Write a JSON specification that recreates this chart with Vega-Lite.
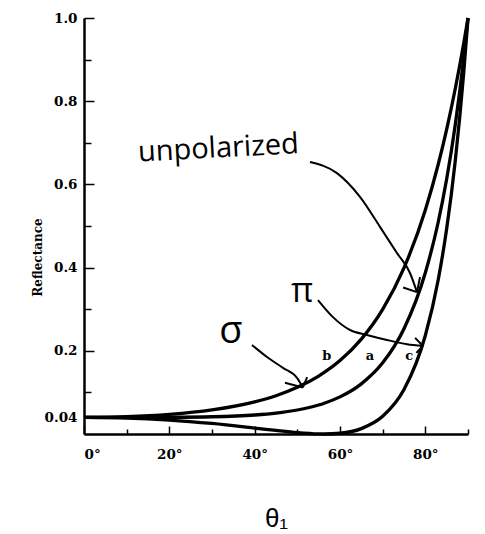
{
  "$schema": "https://vega.github.io/schema/vega-lite/v6.json",
  "width": 384,
  "height": 416,
  "autosize": {"type": "none"},
  "padding": {"left": 84, "top": 18, "right": 17, "bottom": 100},
  "background": "white",
  "config": {
    "view": {"stroke": null},
    "axis": {
      "grid": false,
      "domainColor": "black",
      "domainWidth": 2.5,
      "tickColor": "black",
      "tickWidth": 1.5,
      "labelColor": "black",
      "labelFont": "DejaVu Serif",
      "labelFontWeight": "bold",
      "labelFontSize": 13.5,
      "titleColor": "black"
    }
  },
  "datasets": {
    "curves": [
      {"curve": "sigma", "angle": 0, "R": 0.04},
      {"curve": "sigma", "angle": 10, "R": 0.0417},
      {"curve": "sigma", "angle": 20, "R": 0.0471},
      {"curve": "sigma", "angle": 30, "R": 0.0578},
      {"curve": "sigma", "angle": 40, "R": 0.0772},
      {"curve": "sigma", "angle": 45, "R": 0.092},
      {"curve": "sigma", "angle": 50, "R": 0.1121},
      {"curve": "sigma", "angle": 55, "R": 0.1393},
      {"curve": "sigma", "angle": 56.3, "R": 0.1479},
      {"curve": "sigma", "angle": 60, "R": 0.1766},
      {"curve": "sigma", "angle": 65, "R": 0.2281},
      {"curve": "sigma", "angle": 70, "R": 0.2996},
      {"curve": "sigma", "angle": 75, "R": 0.3994},
      {"curve": "sigma", "angle": 80, "R": 0.5386},
      {"curve": "sigma", "angle": 83, "R": 0.6472},
      {"curve": "sigma", "angle": 85, "R": 0.7323},
      {"curve": "sigma", "angle": 87, "R": 0.8293},
      {"curve": "sigma", "angle": 89, "R": 0.9395},
      {"curve": "sigma", "angle": 90, "R": 1.0},
      {"curve": "unpolarized", "angle": 0, "R": 0.04},
      {"curve": "unpolarized", "angle": 10, "R": 0.04},
      {"curve": "unpolarized", "angle": 20, "R": 0.0403},
      {"curve": "unpolarized", "angle": 30, "R": 0.0415},
      {"curve": "unpolarized", "angle": 40, "R": 0.0457},
      {"curve": "unpolarized", "angle": 45, "R": 0.0502},
      {"curve": "unpolarized", "angle": 50, "R": 0.0577},
      {"curve": "unpolarized", "angle": 55, "R": 0.0697},
      {"curve": "unpolarized", "angle": 56.3, "R": 0.074},
      {"curve": "unpolarized", "angle": 60, "R": 0.0892},
      {"curve": "unpolarized", "angle": 65, "R": 0.1205},
      {"curve": "unpolarized", "angle": 70, "R": 0.171},
      {"curve": "unpolarized", "angle": 75, "R": 0.2531},
      {"curve": "unpolarized", "angle": 80, "R": 0.3877},
      {"curve": "unpolarized", "angle": 83, "R": 0.5084},
      {"curve": "unpolarized", "angle": 85, "R": 0.6128},
      {"curve": "unpolarized", "angle": 87, "R": 0.7424},
      {"curve": "unpolarized", "angle": 89, "R": 0.9042},
      {"curve": "unpolarized", "angle": 90, "R": 1.0},
      {"curve": "pi", "angle": 0, "R": 0.04},
      {"curve": "pi", "angle": 10, "R": 0.0384},
      {"curve": "pi", "angle": 20, "R": 0.0335},
      {"curve": "pi", "angle": 30, "R": 0.0253},
      {"curve": "pi", "angle": 40, "R": 0.0143},
      {"curve": "pi", "angle": 45, "R": 0.0085},
      {"curve": "pi", "angle": 50, "R": 0.0033},
      {"curve": "pi", "angle": 55, "R": 0.0002},
      {"curve": "pi", "angle": 56.3, "R": 0.0},
      {"curve": "pi", "angle": 60, "R": 0.0018},
      {"curve": "pi", "angle": 65, "R": 0.013},
      {"curve": "pi", "angle": 70, "R": 0.0425},
      {"curve": "pi", "angle": 75, "R": 0.1068},
      {"curve": "pi", "angle": 80, "R": 0.2368},
      {"curve": "pi", "angle": 83, "R": 0.3696},
      {"curve": "pi", "angle": 85, "R": 0.4933},
      {"curve": "pi", "angle": 87, "R": 0.6555},
      {"curve": "pi", "angle": 89, "R": 0.8689},
      {"curve": "pi", "angle": 90, "R": 1.0}
    ],
    "arrows": [
      {"id": "u_shaft", "ord": 1, "angle": 52.96, "R": 0.654},
      {"id": "u_shaft", "ord": 2, "angle": 59.29, "R": 0.627},
      {"id": "u_shaft", "ord": 3, "angle": 64.68, "R": 0.57},
      {"id": "u_shaft", "ord": 4, "angle": 69.37, "R": 0.498},
      {"id": "u_shaft", "ord": 5, "angle": 73.35, "R": 0.435},
      {"id": "u_shaft", "ord": 6, "angle": 76.4, "R": 0.387},
      {"id": "u_shaft", "ord": 7, "angle": 78.04, "R": 0.341},
      {"id": "u_w1", "ord": 1, "angle": 74.8, "R": 0.352},
      {"id": "u_w1", "ord": 2, "angle": 78.04, "R": 0.341},
      {"id": "u_w2", "ord": 1, "angle": 78.75, "R": 0.377},
      {"id": "u_w2", "ord": 2, "angle": 78.04, "R": 0.341},
      {"id": "p_shaft", "ord": 1, "angle": 54.84, "R": 0.322},
      {"id": "p_shaft", "ord": 2, "angle": 58.35, "R": 0.281},
      {"id": "p_shaft", "ord": 3, "angle": 62.34, "R": 0.25},
      {"id": "p_shaft", "ord": 4, "angle": 66.32, "R": 0.238},
      {"id": "p_shaft", "ord": 5, "angle": 71.01, "R": 0.226},
      {"id": "p_shaft", "ord": 6, "angle": 75.7, "R": 0.216},
      {"id": "p_shaft", "ord": 7, "angle": 79.4, "R": 0.212},
      {"id": "p_w1", "ord": 1, "angle": 77.6, "R": 0.231},
      {"id": "p_w1", "ord": 2, "angle": 79.4, "R": 0.212},
      {"id": "p_w2", "ord": 1, "angle": 77.9, "R": 0.195},
      {"id": "p_w2", "ord": 2, "angle": 79.4, "R": 0.212},
      {"id": "s_shaft", "ord": 1, "angle": 39.37, "R": 0.214},
      {"id": "s_shaft", "ord": 2, "angle": 42.89, "R": 0.185},
      {"id": "s_shaft", "ord": 3, "angle": 46.64, "R": 0.159},
      {"id": "s_shaft", "ord": 4, "angle": 49.92, "R": 0.135},
      {"id": "s_shaft", "ord": 5, "angle": 51.3, "R": 0.112},
      {"id": "s_w1", "ord": 1, "angle": 47.1, "R": 0.123},
      {"id": "s_w1", "ord": 2, "angle": 51.3, "R": 0.112},
      {"id": "s_w2", "ord": 1, "angle": 52.3, "R": 0.137},
      {"id": "s_w2", "ord": 2, "angle": 51.3, "R": 0.112}
    ],
    "labels": [
      {"kind": "word", "text": "unpolarized", "angle": 31.6, "R": 0.665},
      {"kind": "pi", "text": "π", "angle": 51.1, "R": 0.317},
      {"kind": "sigma", "text": "σ", "angle": 34.45, "R": 0.219},
      {"kind": "letter", "text": "b", "angle": 56.9, "R": 0.178},
      {"kind": "letter", "text": "a", "angle": 67.0, "R": 0.178},
      {"kind": "letter", "text": "c", "angle": 76.2, "R": 0.178}
    ]
  },
  "layer": [
    {
      "data": {"name": "curves"},
      "mark": {"type": "line", "color": "black", "strokeWidth": 3.3, "interpolate": "monotone"},
      "encoding": {
        "x": {
          "field": "angle",
          "type": "quantitative",
          "scale": {"domain": [0, 90], "nice": false, "zero": false},
          "axis": {
            "values": [0, 10, 20, 30, 40, 50, 60, 70, 80, 90],
            "labelExpr": "(datum.value % 20 === 0 && datum.value < 90) ? datum.value + '°' : ''",
            "tickSize": {"condition": {"test": "datum.value % 20 === 0", "value": -8}, "value": -5},
            "labelPadding": 21,
            "labelBaseline": "top",
            "title": "θ₁",
            "titleFont": "Liberation Sans",
            "titleFontSize": 26,
            "titleFontWeight": "normal",
            "titleBaseline": "alphabetic",
            "titleY": 92
          }
        },
        "y": {
          "field": "R",
          "type": "quantitative",
          "scale": {"domain": [0, 1], "nice": false, "zero": false},
          "axis": {
            "values": [0.04, 0.1, 0.2, 0.3, 0.4, 0.5, 0.6, 0.7, 0.8, 0.9, 1.0],
            "labelExpr": "datum.value === 0.04 ? '0.04' : (round(datum.value * 10) % 2 === 0 ? format(datum.value, '.1f') : '')",
            "tickSize": {"condition": {"test": "datum.value === 0.04 || round(datum.value * 10) % 2 === 0", "value": -10}, "value": -7},
            "labelPadding": 17,
            "title": "Reflectance",
            "titleFont": "DejaVu Serif",
            "titleFontWeight": "bold",
            "titleFontSize": 12,
            "titleAngle": -90,
            "titleAlign": "center",
            "titleBaseline": "middle",
            "titleX": -47,
            "titleY": 239
          }
        },
        "detail": {"field": "curve"}
      }
    },
    {
      "data": {"name": "arrows"},
      "mark": {"type": "line", "color": "black", "strokeWidth": 2, "interpolate": "monotone"},
      "encoding": {
        "x": {"field": "angle", "type": "quantitative"},
        "y": {"field": "R", "type": "quantitative"},
        "detail": {"field": "id"},
        "order": {"field": "ord", "type": "quantitative"}
      }
    },
    {
      "data": {"name": "labels"},
      "transform": [{"filter": "datum.kind === 'word'"}],
      "mark": {"type": "text", "font": "Open Sans", "fontSize": 29, "angle": -3, "align": "center", "baseline": "alphabetic", "color": "black"},
      "encoding": {
        "x": {"field": "angle", "type": "quantitative"},
        "y": {"field": "R", "type": "quantitative"},
        "text": {"field": "text"}
      }
    },
    {
      "data": {"name": "labels"},
      "transform": [{"filter": "datum.kind === 'pi'"}],
      "mark": {"type": "text", "font": "Open Sans", "fontSize": 34, "align": "center", "baseline": "alphabetic", "color": "black"},
      "encoding": {
        "x": {"field": "angle", "type": "quantitative"},
        "y": {"field": "R", "type": "quantitative"},
        "text": {"field": "text"}
      }
    },
    {
      "data": {"name": "labels"},
      "transform": [{"filter": "datum.kind === 'sigma'"}],
      "mark": {"type": "text", "font": "Open Sans", "fontSize": 38, "align": "center", "baseline": "alphabetic", "color": "black"},
      "encoding": {
        "x": {"field": "angle", "type": "quantitative"},
        "y": {"field": "R", "type": "quantitative"},
        "text": {"field": "text"}
      }
    },
    {
      "data": {"name": "labels"},
      "transform": [{"filter": "datum.kind === 'letter'"}],
      "mark": {"type": "text", "font": "DejaVu Serif", "fontWeight": "bold", "fontSize": 13, "align": "center", "baseline": "alphabetic", "color": "black"},
      "encoding": {
        "x": {"field": "angle", "type": "quantitative"},
        "y": {"field": "R", "type": "quantitative"},
        "text": {"field": "text"}
      }
    }
  ]
}
